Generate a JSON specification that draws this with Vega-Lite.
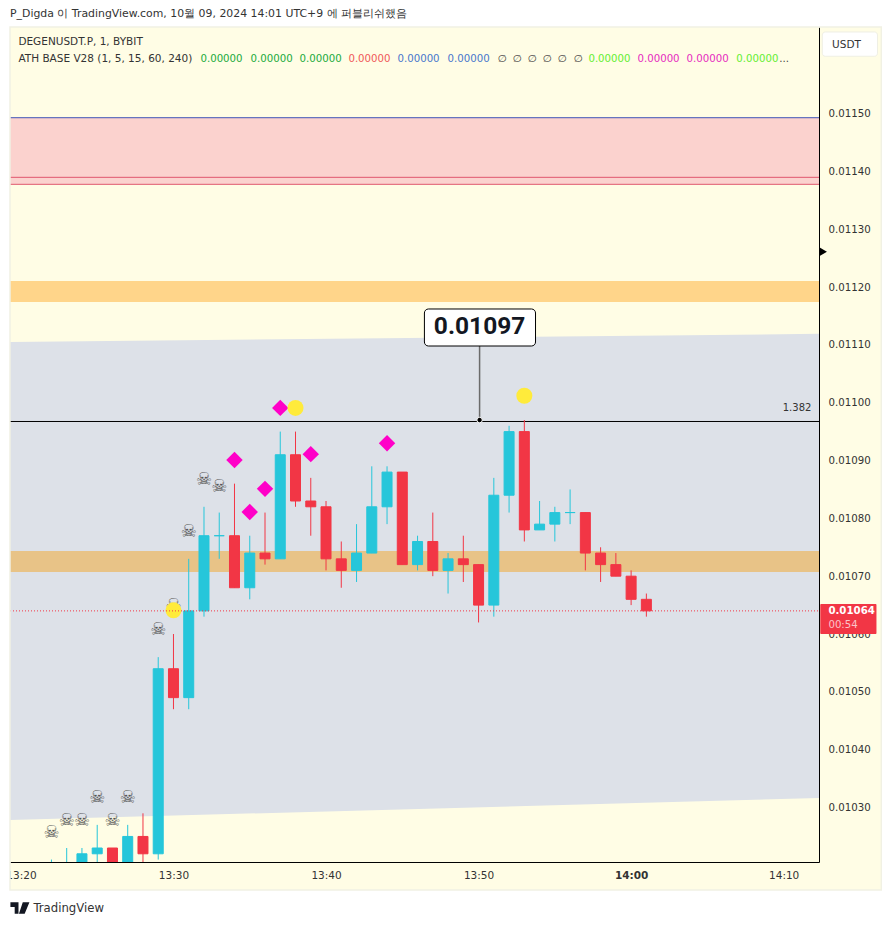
{
"$schema":"https://vega.github.io/schema/vega-lite/v6.json",
"width":809,"height":835,"autosize":"none",
"padding":{"left":10,"top":27,"right":72,"bottom":63},
"background":"#FFFDE5",
"config":{"view":{"stroke":null},"font":"DejaVu Sans"},
"resolve":{"scale":{"color":"independent"}},
"datasets":{
"candles":[
{"t":"2024-10-09T13:22:00Z","o":0.01018,"h":0.01021,"l":0.01018,"c":0.0102,"dir":"up"},
{"t":"2024-10-09T13:23:00Z","o":0.01019,"h":0.01023,"l":0.01018,"c":0.0102,"dir":"up"},
{"t":"2024-10-09T13:24:00Z","o":0.01019,"h":0.01023,"l":0.01018,"c":0.01022,"dir":"up"},
{"t":"2024-10-09T13:25:00Z","o":0.01022,"h":0.01027,"l":0.01018,"c":0.01023,"dir":"up"},
{"t":"2024-10-09T13:26:00Z","o":0.01023,"h":0.01023,"l":0.01018,"c":0.01019,"dir":"down"},
{"t":"2024-10-09T13:27:00Z","o":0.01019,"h":0.01027,"l":0.01018,"c":0.01025,"dir":"up"},
{"t":"2024-10-09T13:28:00Z","o":0.01025,"h":0.01029,"l":0.01018,"c":0.01022,"dir":"down"},
{"t":"2024-10-09T13:29:00Z","o":0.01022,"h":0.01056,"l":0.01021,"c":0.01054,"dir":"up"},
{"t":"2024-10-09T13:30:00Z","o":0.01054,"h":0.0106,"l":0.01047,"c":0.01049,"dir":"down"},
{"t":"2024-10-09T13:31:00Z","o":0.01049,"h":0.01073,"l":0.01047,"c":0.01064,"dir":"up"},
{"t":"2024-10-09T13:32:00Z","o":0.01064,"h":0.01082,"l":0.01063,"c":0.01077,"dir":"up"},
{"t":"2024-10-09T13:33:00Z","o":0.01077,"h":0.01081,"l":0.01073,"c":0.01077,"dir":"up"},
{"t":"2024-10-09T13:34:00Z","o":0.01077,"h":0.01086,"l":0.01068,"c":0.01068,"dir":"down"},
{"t":"2024-10-09T13:35:00Z","o":0.01068,"h":0.01077,"l":0.01066,"c":0.01074,"dir":"up"},
{"t":"2024-10-09T13:36:00Z","o":0.01074,"h":0.01081,"l":0.01072,"c":0.01073,"dir":"down"},
{"t":"2024-10-09T13:37:00Z","o":0.01073,"h":0.01095,"l":0.01073,"c":0.01091,"dir":"up"},
{"t":"2024-10-09T13:38:00Z","o":0.01091,"h":0.01095,"l":0.01082,"c":0.01083,"dir":"down"},
{"t":"2024-10-09T13:39:00Z","o":0.01083,"h":0.01087,"l":0.01077,"c":0.01082,"dir":"down"},
{"t":"2024-10-09T13:40:00Z","o":0.01082,"h":0.01083,"l":0.01071,"c":0.01073,"dir":"down"},
{"t":"2024-10-09T13:41:00Z","o":0.01073,"h":0.01076,"l":0.01068,"c":0.01071,"dir":"down"},
{"t":"2024-10-09T13:42:00Z","o":0.01071,"h":0.01079,"l":0.01069,"c":0.01074,"dir":"up"},
{"t":"2024-10-09T13:43:00Z","o":0.01074,"h":0.01089,"l":0.01074,"c":0.01082,"dir":"up"},
{"t":"2024-10-09T13:44:00Z","o":0.01082,"h":0.01089,"l":0.01079,"c":0.01088,"dir":"up"},
{"t":"2024-10-09T13:45:00Z","o":0.01088,"h":0.01088,"l":0.01072,"c":0.01072,"dir":"down"},
{"t":"2024-10-09T13:46:00Z","o":0.01072,"h":0.01077,"l":0.01071,"c":0.01076,"dir":"up"},
{"t":"2024-10-09T13:47:00Z","o":0.01076,"h":0.01081,"l":0.0107,"c":0.01071,"dir":"down"},
{"t":"2024-10-09T13:48:00Z","o":0.01071,"h":0.01074,"l":0.01067,"c":0.01073,"dir":"up"},
{"t":"2024-10-09T13:49:00Z","o":0.01073,"h":0.01077,"l":0.01069,"c":0.01072,"dir":"down"},
{"t":"2024-10-09T13:50:00Z","o":0.01072,"h":0.01072,"l":0.01062,"c":0.01065,"dir":"down"},
{"t":"2024-10-09T13:51:00Z","o":0.01065,"h":0.01087,"l":0.01063,"c":0.01084,"dir":"up"},
{"t":"2024-10-09T13:52:00Z","o":0.01084,"h":0.01096,"l":0.01081,"c":0.01095,"dir":"up"},
{"t":"2024-10-09T13:53:00Z","o":0.01095,"h":0.01097,"l":0.01076,"c":0.01078,"dir":"down"},
{"t":"2024-10-09T13:54:00Z","o":0.01078,"h":0.01083,"l":0.01078,"c":0.01079,"dir":"up"},
{"t":"2024-10-09T13:55:00Z","o":0.01079,"h":0.01082,"l":0.01076,"c":0.01081,"dir":"up"},
{"t":"2024-10-09T13:56:00Z","o":0.01081,"h":0.01085,"l":0.01079,"c":0.01081,"dir":"up"},
{"t":"2024-10-09T13:57:00Z","o":0.01081,"h":0.01081,"l":0.01071,"c":0.01074,"dir":"down"},
{"t":"2024-10-09T13:58:00Z","o":0.01074,"h":0.01075,"l":0.01069,"c":0.01072,"dir":"down"},
{"t":"2024-10-09T13:59:00Z","o":0.01072,"h":0.01074,"l":0.0107,"c":0.0107,"dir":"down"},
{"t":"2024-10-09T14:00:00Z","o":0.0107,"h":0.01071,"l":0.01065,"c":0.01066,"dir":"down"},
{"t":"2024-10-09T14:01:00Z","o":0.01066,"h":0.01067,"l":0.01063,"c":0.01064,"dir":"down"}
]},
"encoding":{
"x":{"field":"t","type":"temporal","title":null,"scale":{"type":"utc","padding":0,"domain":["2024-10-09T13:19:17Z","2024-10-09T14:12:19Z"]},
 "axis":{"orient":"bottom","format":"%H:%M","grid":false,"tickSize":0,"labelPadding":8,"labelFontSize":10.5,"labelColor":"#333333","labelFont":"DejaVu Sans","labelFlush":false,"labelBound":false,"labelOverlap":false,"domainColor":"#000000","domainWidth":1,
 "values":["2024-10-09T13:20:00Z","2024-10-09T13:30:00Z","2024-10-09T13:40:00Z","2024-10-09T13:50:00Z","2024-10-09T14:00:00Z","2024-10-09T14:10:00Z"],
 "labelFontWeight":{"condition":{"test":"utchours(datum.value)==14 && utcminutes(datum.value)==0","value":"bold"},"value":"normal"}}},
"y":{"field":"p","type":"quantitative","title":null,"scale":{"domain":[0.0102058,0.0116496],"nice":false,"zero":false},
 "axis":{"orient":"right","format":".5f","grid":false,"tickSize":0,"labelPadding":9,"labelFontSize":10.2,"labelColor":"#333333","labelFont":"DejaVu Sans","labelFlush":false,"labelBound":false,"labelOverlap":false,"domainColor":"#000000","domainWidth":1,
 "values":[0.0103,0.0104,0.0105,0.0106,0.0107,0.0108,0.0109,0.011,0.0111,0.0112,0.0113,0.0114,0.0115]}}
},
"layer":[
{"data":{"values":[{"t":"2024-10-09T13:19:17Z","p":0.011105,"p2":0.0102784},{"t":"2024-10-09T14:12:19Z","p":0.011119,"p2":0.0103164}]},
 "mark":{"type":"area","color":"#DDE1E8"},"encoding":{"y2":{"field":"p2"}}},
{"data":{"values":[
 {"t":"2024-10-09T13:19:17Z","t2":"2024-10-09T14:12:19Z","p":0.0112104,"p2":0.011174,"zone":"upper"},
 {"t":"2024-10-09T13:19:17Z","t2":"2024-10-09T14:12:19Z","p":0.0107435,"p2":0.0107072,"zone":"lower"},
 {"t":"2024-10-09T13:19:17Z","t2":"2024-10-09T14:12:19Z","p":0.01149222,"p2":0.01137809,"zone":"supply"}]},
 "mark":{"type":"rect"},"encoding":{"x2":{"field":"t2"},"y2":{"field":"p2"},
 "color":{"field":"zone","type":"nominal","legend":null,"scale":{"domain":["upper","lower","supply"],"range":["#FFD58A","#E8C387","#FBD2CE"]}}}},
{"data":{"values":[
 {"t":"2024-10-09T13:19:17Z","t2":"2024-10-09T14:12:19Z","p":0.01149274,"kind":"a"},
 {"t":"2024-10-09T13:19:17Z","t2":"2024-10-09T14:12:19Z","p":0.01138968,"kind":"b"},
 {"t":"2024-10-09T13:19:17Z","t2":"2024-10-09T14:12:19Z","p":0.01137758,"kind":"b"},
 {"t":"2024-10-09T13:19:17Z","t2":"2024-10-09T14:12:19Z","p":0.01096747,"kind":"c"}]},
 "mark":{"type":"rule","strokeWidth":1},"encoding":{"x2":{"field":"t2"},
 "color":{"field":"kind","type":"nominal","legend":null,"scale":{"domain":["a","b","c"],"range":["#3F51B5","#E0566E","#000000"]}}}},
{"data":{"name":"candles"},"mark":{"type":"rule","strokeWidth":1,"clip":true},"encoding":{
 "y":{"field":"l","type":"quantitative","title":null,"scale":{"domain":[0.0102058,0.0116496],"nice":false,"zero":false}},"y2":{"field":"h"},
 "color":{"field":"dir","type":"nominal","legend":null,"scale":{"domain":["up","down"],"range":["#26C6DA","#F23645"]}}}},
{"data":{"name":"candles"},"mark":{"type":"bar","width":10,"strokeWidth":1,"clip":true},"encoding":{
 "y":{"field":"o","type":"quantitative","title":null,"scale":{"domain":[0.0102058,0.0116496],"nice":false,"zero":false}},"y2":{"field":"c"},
 "color":{"field":"dir","type":"nominal","legend":null,"scale":{"domain":["up","down"],"range":["#26C6DA","#F23645"]}},
 "stroke":{"field":"dir","type":"nominal","legend":null,"scale":{"domain":["up","down"],"range":["#26C6DA","#F23645"]}}}},
{"data":{"values":[
 {"t":"2024-10-09T13:22:00Z","p":0.010256},{"t":"2024-10-09T13:23:00Z","p":0.010277},{"t":"2024-10-09T13:24:00Z","p":0.010277},{"t":"2024-10-09T13:25:00Z","p":0.010316},{"t":"2024-10-09T13:26:00Z","p":0.010277},{"t":"2024-10-09T13:27:00Z","p":0.010316},{"t":"2024-10-09T13:29:00Z","p":0.010607},{"t":"2024-10-09T13:30:00Z","p":0.010649},{"t":"2024-10-09T13:31:00Z","p":0.010776},{"t":"2024-10-09T13:32:00Z","p":0.010866},{"t":"2024-10-09T13:33:00Z","p":0.010854}]},
 "mark":{"type":"text","text":"☠","font":"DejaVu Sans","fontSize":18,"color":"#555555","baseline":"middle","align":"center"}},
{"data":{"values":[
 {"t":"2024-10-09T13:34:00Z","p":0.010901},{"t":"2024-10-09T13:35:00Z","p":0.010811},{"t":"2024-10-09T13:36:00Z","p":0.010851},{"t":"2024-10-09T13:37:00Z","p":0.010991},{"t":"2024-10-09T13:39:00Z","p":0.010911},{"t":"2024-10-09T13:44:00Z","p":0.01093}]},
 "mark":{"type":"point","shape":"diamond","filled":true,"size":270,"color":"#FF00C8","opacity":1}},
{"data":{"values":[{"t":"2024-10-09T13:30:00Z","p":0.010641},{"t":"2024-10-09T13:38:00Z","p":0.010991},{"t":"2024-10-09T13:53:00Z","p":0.011012}]},
 "mark":{"type":"point","shape":"circle","filled":true,"size":256,"color":"#FFEB3B","opacity":1}},
{"data":{"values":[{"t":"2024-10-09T13:19:17Z","t2":"2024-10-09T14:12:19Z","p":0.01064}]},
 "mark":{"type":"rule","strokeWidth":1,"color":"#F23645","strokeDash":[1,2]},"encoding":{"x2":{"field":"t2"}}},
{"data":{"values":[{"t":"2024-10-09T13:50:04Z","p":0.010968,"p2":0.011098}]},
 "mark":{"type":"rule","strokeWidth":1.5,"color":"#6B6B6B"},"encoding":{"y2":{"field":"p2"}}},
{"data":{"values":[{"t":"2024-10-09T13:50:04Z","p":0.01097}]},
 "mark":{"type":"point","shape":"circle","filled":true,"size":30,"color":"#000000","stroke":"#FFFFFF","strokeWidth":1,"opacity":1}},
{"data":{"values":[{"t":"2024-10-09T13:46:27Z","t2":"2024-10-09T13:53:44Z","p":0.011162,"p2":0.011098}]},
 "mark":{"type":"rect","fill":"#FFFFFF","stroke":"#000000","strokeWidth":1,"cornerRadius":4},"encoding":{"x2":{"field":"t2"},"y2":{"field":"p2"}}},
{"data":{"values":[{"t":"2024-10-09T13:50:04Z","p":0.011131,"label":"0.01097"}]},
 "mark":{"type":"text","font":"Roboto","fontSize":24.5,"fontWeight":"bold","color":"#131722","align":"center","baseline":"middle"},"encoding":{"text":{"field":"label"}}},
{"data":{"values":[{"t":"2024-10-09T14:11:49Z","p":0.010991,"label":"1.382"}]},
 "mark":{"type":"text","fontSize":10,"color":"#333333","align":"right","baseline":"middle"},"encoding":{"text":{"field":"label"}}},
{"data":{"values":[
 {"t":"2024-10-09T13:18:30Z","t2":"2024-10-09T14:17:10Z","p":0.0117,"p2":0.0116496},
 {"t":"2024-10-09T13:18:30Z","t2":"2024-10-09T14:17:10Z","p":0.0101573,"p2":0.01009},
 {"t":"2024-10-09T13:18:30Z","t2":"2024-10-09T13:19:17Z","p":0.0117,"p2":0.01009},
 {"t":"2024-10-09T14:16:24Z","t2":"2024-10-09T14:17:10Z","p":0.0117,"p2":0.01009}]},
 "mark":{"type":"rect","fill":"#FFFFFF"},"encoding":{"x2":{"field":"t2"},"y2":{"field":"p2"}}},
{"data":{"values":[{"t":"2024-10-09T13:19:17Z","t2":"2024-10-09T14:16:24Z","p":0.0116496,"p2":0.0101573}]},
 "mark":{"type":"rect","fillOpacity":0,"stroke":"#F1F1E4","strokeWidth":1.5},"encoding":{"x2":{"field":"t2"},"y2":{"field":"p2"}}},
{"data":{"values":[{"t":"2024-10-09T14:12:24Z","t2":"2024-10-09T14:16:05Z","p":0.010652,"p2":0.0106}]},
 "mark":{"type":"rect","fill":"#F23645","cornerRadius":1},"encoding":{"x2":{"field":"t2"},"y2":{"field":"p2"}}},
{"data":{"values":[{"t":"2024-10-09T14:12:56Z","p":0.01064,"label":"0.01064"}]},
 "mark":{"type":"text","fontSize":10.2,"fontWeight":"bold","color":"#FFFFFF","align":"left","baseline":"middle"},"encoding":{"text":{"field":"label"}}},
{"data":{"values":[{"t":"2024-10-09T14:12:56Z","p":0.0106155,"label":"00:54"}]},
 "mark":{"type":"text","fontSize":10.2,"color":"#FBC3C8","align":"left","baseline":"middle"},"encoding":{"text":{"field":"label"}}},
{"data":{"values":[{"t":"2024-10-09T14:12:36Z","p":0.011261}]},
 "mark":{"type":"point","shape":"triangle-right","filled":true,"size":70,"color":"#000000","opacity":1}},
{"data":{"values":[{"t":"2024-10-09T14:12:32Z","t2":"2024-10-09T14:16:09Z","p":0.011641,"p2":0.011599}]},
 "mark":{"type":"rect","fill":"#FFFFFF","stroke":"#EFEFE4","strokeWidth":1,"cornerRadius":3},"encoding":{"x2":{"field":"t2"},"y2":{"field":"p2"}}},
{"data":{"values":[{"t":"2024-10-09T14:14:07Z","p":0.011618,"label":"USDT"}]},
 "mark":{"type":"text","fontSize":10.5,"color":"#333333","align":"center","baseline":"middle"},"encoding":{"text":{"field":"label"}}},
{"data":{"values":[
 {"t":"2024-10-09T13:19:17Z","p":0.011672,"label":"P_Digda 이 TradingView.com, 10월 09, 2024 14:01 UTC+9 에 퍼블리쉬했음"}]},
 "mark":{"type":"text","fontSize":10.9,"color":"#333333","align":"left","baseline":"middle"},"encoding":{"text":{"field":"label"}}},
{"data":{"values":[
 {"t":"2024-10-09T13:19:50Z","p":0.0116236,"label":"DEGENUSDT.P, 1, BYBIT"},
 {"t":"2024-10-09T13:19:50Z","p":0.011594,"label":"ATH BASE V28 (1, 5, 15, 60, 240)"}]},
 "mark":{"type":"text","fontSize":10.5,"color":"#333333","align":"left","baseline":"middle"},"encoding":{"text":{"field":"label"}}},
{"data":{"values":[
 {"t":"2024-10-09T13:20:49Z","p":0.0101262,"label":"TradingView"}]},
 "mark":{"type":"text","fontSize":11.7,"color":"#333333","align":"left","baseline":"middle"},"encoding":{"text":{"field":"label"}}},
{"data":{"values":[
 {"t":"2024-10-09T13:31:46Z","p":0.011594,"label":"0.00000","series":"s1"},{"t":"2024-10-09T13:35:03Z","p":0.011594,"label":"0.00000","series":"s1"},{"t":"2024-10-09T13:38:16Z","p":0.011594,"label":"0.00000","series":"s1"},
 {"t":"2024-10-09T13:41:28Z","p":0.011594,"label":"0.00000","series":"s2"},
 {"t":"2024-10-09T13:44:41Z","p":0.011594,"label":"0.00000","series":"s3"},{"t":"2024-10-09T13:47:58Z","p":0.011594,"label":"0.00000","series":"s3"},
 {"t":"2024-10-09T13:51:14Z","p":0.011594,"label":"∅","series":"s4"},{"t":"2024-10-09T13:52:13Z","p":0.011594,"label":"∅","series":"s4"},{"t":"2024-10-09T13:53:12Z","p":0.011594,"label":"∅","series":"s4"},{"t":"2024-10-09T13:54:11Z","p":0.011594,"label":"∅","series":"s4"},{"t":"2024-10-09T13:55:10Z","p":0.011594,"label":"∅","series":"s4"},{"t":"2024-10-09T13:56:13Z","p":0.011594,"label":"∅","series":"s4"},
 {"t":"2024-10-09T13:57:12Z","p":0.011594,"label":"0.00000","series":"s5"},
 {"t":"2024-10-09T14:00:25Z","p":0.011594,"label":"0.00000","series":"s6"},{"t":"2024-10-09T14:03:38Z","p":0.011594,"label":"0.00000","series":"s6"},
 {"t":"2024-10-09T14:06:54Z","p":0.011594,"label":"0.00000","series":"s5"},
 {"t":"2024-10-09T14:09:43Z","p":0.011594,"label":"...","series":"s4"}]},
 "mark":{"type":"text","fontSize":10.2,"align":"left","baseline":"middle"},"encoding":{
 "text":{"field":"label"},
 "color":{"field":"series","type":"nominal","legend":null,"scale":{"domain":["s1","s2","s3","s4","s5","s6"],"range":["#22AB40","#F05A5A","#4A78CC","#444444","#66EE33","#E62CC0"]}}}},
{"data":{"values":[{"t":"2024-10-09T13:19:56Z","p":0.0101262}]},
 "mark":{"type":"point","filled":true,"size":361,"color":"#131722","opacity":1,"shape":"M-1,-0.6H-0.15V0.6H-0.55V-0.1H-1Z M0.3,-0.6H1L0.5,0.6H-0.1Z"}}
]}
